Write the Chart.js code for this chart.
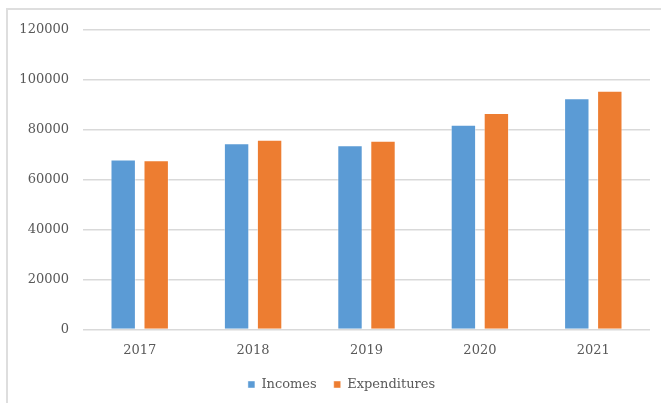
<!DOCTYPE html>
<html>
<head>
<meta charset="utf-8">
<script src="https://cdn.jsdelivr.net/npm/chart.js@4.4.1/dist/chart.umd.min.js"></script>
<style>
  html, body { margin: 0; padding: 0; background: #ffffff; overflow: hidden; }
  #wrap { position: relative; width: 661px; height: 403px; }
  /* thin frame of the original figure (only left and top edges are visible) */
  #frame {
    position: absolute; left: 6px; top: 8px; width: 700px; height: 500px;
    border-left: 2px solid #dedede; border-top: 2px solid #dedede;
  }
  #chart { position: absolute; left: 0; top: 0; }
</style>
</head>
<body>
<div id="wrap">
  <div id="frame"></div>
  <canvas id="chart" width="661" height="403"></canvas>
</div>
<script>
// ── Data ─────────────────────────────────────────────────────
const years        = ['2017', '2018', '2019', '2020', '2021'];
const incomes      = [68100, 74600, 73800, 82000, 92700];
const expenditures = [67800, 76000, 75600, 86700, 95700];
const yTicks       = [0, 20000, 40000, 60000, 80000, 100000, 120000];

// ── Theme ────────────────────────────────────────────────────
const theme = {
  blue:      '#5b9bd5',
  orange:    '#ed7d31',
  grid:      '#d9d9d9',
  tick:      '#595959',
  font:      "'DejaVu Serif', 'Liberation Serif', serif",
};

// The original legend is centred a bit right of the canvas centre;
// nudge the legend box after layout instead of padding the whole chart.
const legendShift = {
  id: 'legendShift',
  afterLayout(chart) {
    if (chart.legend) chart.legend.left += 33;
  },
};

const ctx = document.getElementById('chart');

new Chart(ctx, {
  type: 'bar',
  data: {
    labels: years,
    datasets: [
      {
        label: 'Incomes',
        data: incomes,
        backgroundColor: theme.blue,
        borderColor: 'rgba(255,255,255,0.45)',
        borderWidth: 1,
        categoryPercentage: 0.582,
        barPercentage: 0.77,
      },
      {
        label: 'Expenditures',
        data: expenditures,
        backgroundColor: theme.orange,
        borderColor: 'rgba(255,255,255,0.45)',
        borderWidth: 1,
        categoryPercentage: 0.582,
        barPercentage: 0.77,
      },
    ],
  },
  plugins: [legendShift],
  options: {
    responsive: false,
    animation: false,
    layout: {
      padding: { top: 30, right: 11, bottom: 2, left: 0 },
    },
    plugins: {
      tooltip: { enabled: false },
      legend: {
        position: 'bottom',
        labels: {
          boxWidth: 7,
          boxHeight: 7,
          padding: 17,
          color: theme.tick,
          font: { family: theme.font, size: 13 },
        },
      },
    },
    scales: {
      x: {
        grid: { display: false, drawTicks: false },
        border: { display: false },
        ticks: {
          color: theme.tick,
          padding: 13,
          font: { family: theme.font, size: 13 },
        },
        afterFit: (scale) => { scale.height = 31.5; },
      },
      y: {
        min: 0,
        max: 120000,
        afterBuildTicks: (scale) => {
          scale.ticks = yTicks.map((v) => ({ value: v }));
        },
        grid: {
          color: theme.grid,
          lineWidth: 1.5,
          drawTicks: false,
        },
        border: { display: false },
        ticks: {
          color: theme.tick,
          padding: 14,
          font: { family: theme.font, size: 13 },
          callback: (value) => String(value),
        },
        afterFit: (scale) => { scale.width = 83; },
      },
    },
  },
});
</script>
</body>
</html>
